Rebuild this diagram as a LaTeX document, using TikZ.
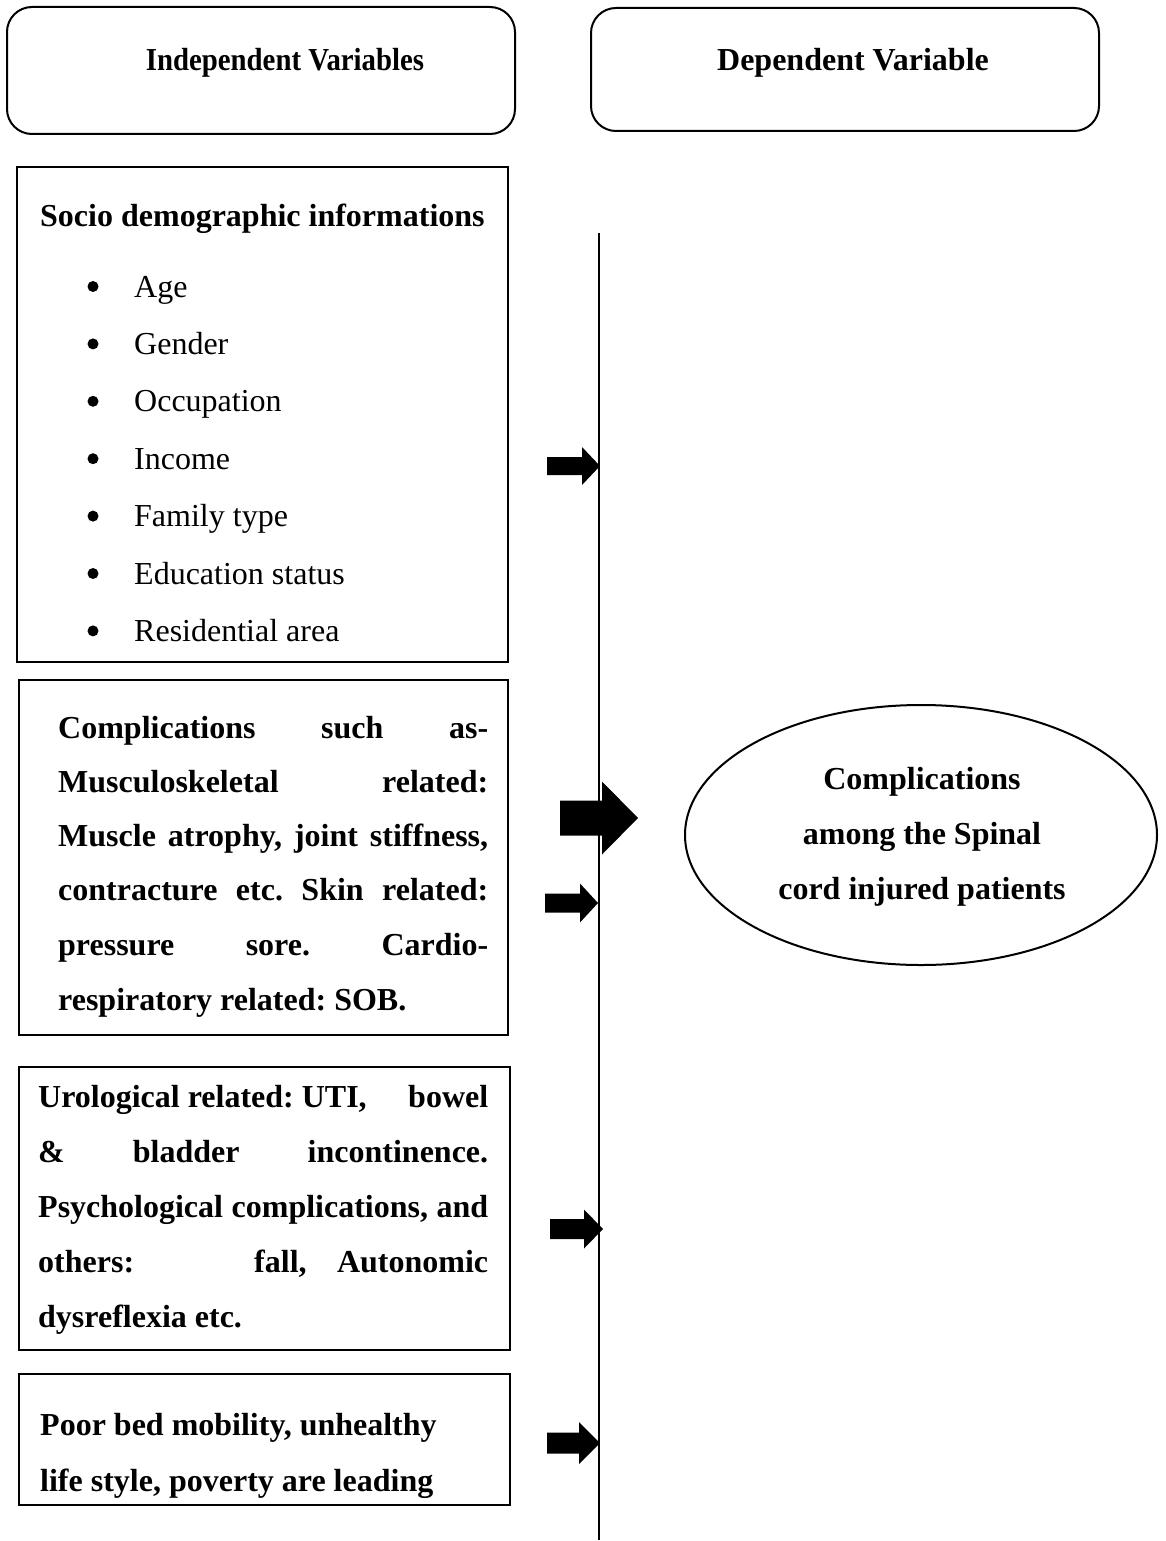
\documentclass[tikz,border=0pt]{standalone}
\usepackage{fontspec}
\setmainfont{Liberation Serif}
\frenchspacing
\newcommand\blkarrow[6]{\fill (#1,#4-#5) -- (#2,#4-#5) -- (#2,#4-#6) -- (#3,#4) -- (#2,#4+#6) -- (#2,#4+#5) -- (#1,#4+#5) -- cycle;}
\newcommand\jline[2]{\makebox[#1pt][s]{#2}}
\newcommand\lline[2]{\makebox[#1pt][l]{#2}}
\begin{document}
\begin{tikzpicture}[x=1pt,y=-1pt,
  hdr/.style={draw,line width=2pt,rounded corners=25pt},
  boxframe/.style={draw,line width=2pt},
  txt/.style={anchor=base west,inner sep=0pt,font=\fontsize{32}{36}\selectfont},
  btxt/.style={txt,font=\fontsize{32}{36}\selectfont\bfseries},
  ctxt/.style={anchor=base,inner sep=0pt,font=\fontsize{32}{36}\selectfont\bfseries}]
\useasboundingbox (0,0) rectangle (1165,1541);
% header boxes
\draw[hdr] (7,7) rectangle (515,134);
\draw[hdr] (591,8) rectangle (1099,131);
\node[ctxt] (h1) at (285,71) {\scalebox{0.9}[1]{Independent Variables}};
\node[ctxt] (h2) at (853,71) {Dependent Variable};
% box 1
\draw[boxframe] (17,167) rectangle (508,662);
\node[btxt] (s0) at (40,226) {Socio demographic informations};
\foreach \t [count=\i from 0] in {Age,Gender,Occupation,Income,Family type,Education status,Residential area}{
  \fill (93,{286.5+57.4*\i}) circle (5.5);
  \node[txt] (b\i) at (134,{297+57.4*\i}) {\t};
}
% box 2
\draw[boxframe] (19,680) rectangle (508,1035);
\node[btxt] (c1) at (58,738) {\jline{430}{Complications such as-}};
\node[btxt] (c2) at (58,792) {\jline{430}{Musculoskeletal related:}};
\node[btxt] (c3) at (58,846) {\jline{430}{Muscle atrophy, joint stiffness,}};
\node[btxt] (c4) at (58,900) {\jline{430}{contracture etc. Skin related:}};
\node[btxt] (c5) at (58,955) {\jline{430}{pressure sore. Cardio-}};
\node[btxt] (c6) at (58,1010) {respiratory related: SOB.};
% box 3
\draw[boxframe] (19,1067) rectangle (510,1350);
\node[btxt] (u1) at (38,1107) {\lline{450}{Urological related: UTI,\hfill bowel}};
\node[btxt] (u2) at (38,1162) {\jline{450}{\& bladder incontinence.}};
\node[btxt] (u3) at (38,1217) {\jline{450}{Psychological complications, and}};
\node[btxt] (u4) at (38,1272) {\lline{450}{others:\hspace{0pt plus 5fill} fall,\hspace{0pt plus 1fill} Autonomic}};
\node[btxt] (u5) at (38,1327) {dysreflexia etc.};
% box 4
\draw[boxframe] (19,1374) rectangle (510,1505);
\node[btxt] (p1) at (40,1435) {Poor bed mobility, unhealthy};
\node[btxt] (p2) at (40,1491) {life style, poverty are leading};
% vertical line
\coordinate (vt) at (599,233);
\coordinate (vb) at (599,1540);
\draw[line width=1.5pt] (vt) -- (vb);
% arrows
\blkarrow{547}{582}{600}{466}{9}{19}
\blkarrow{560}{602}{638}{818}{17.5}{36.5}
\blkarrow{545}{580}{598}{903}{9.5}{19.5}
\blkarrow{550}{584}{603}{1229}{10}{19.5}
\blkarrow{547}{579}{600}{1443}{10.5}{21}
% ellipse
\draw[line width=2pt] (921,835) ellipse (236 and 130);
\node[ctxt] (e1) at (922,789) {Complications};
\node[ctxt] (e2) at (922,844) {among the Spinal};
\node[ctxt] (e3) at (922,899) {cord injured patients};
\end{tikzpicture}
\end{document}
